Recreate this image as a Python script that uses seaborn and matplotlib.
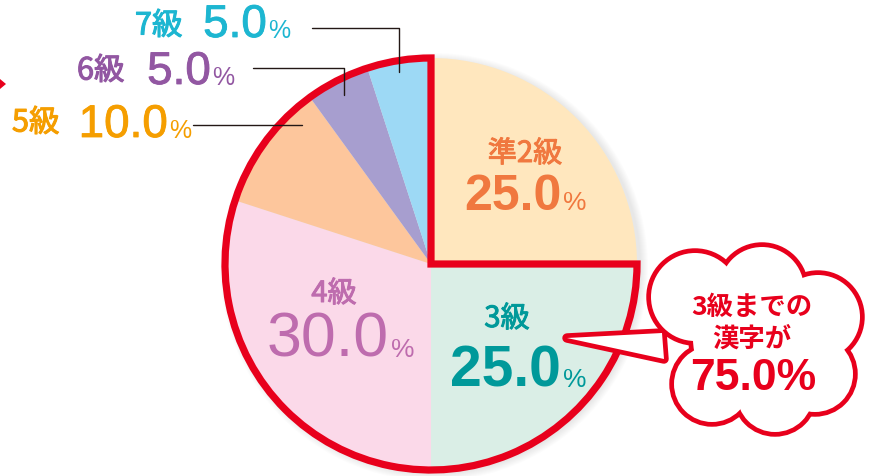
import matplotlib
matplotlib.use('Agg')
import matplotlib.pyplot as plt
import matplotlib.patheffects as pe
import seaborn as sns
from matplotlib.patches import Wedge, Circle, Polygon

sns.set_style('white')
plt.rcParams['font.family'] = ['Noto Sans CJK JP', 'DejaVu Sans']

# データ（時計回り、12時の位置から）
grades = ['準2級', '3級', '4級', '5級', '6級', '7級']
shares = [25.0, 25.0, 30.0, 10.0, 5.0, 5.0]
fills = ['#FFE7BE', '#DAEEE6', '#FBD9E9', '#FDC69C', '#A79ECF', '#9DD9F5']
text_colors = ['#F0783F', '#00999A', '#BE6CAE', '#F59E00', '#9257A2', '#1DB6D1']
bubble_lines = ['3級までの', '漢字が']
bubble_value = 75.0

RED = '#E8001C'
W, H = 872, 477
JP = ['Noto Sans CJK JP', 'DejaVu Sans']
NUM = ['Liberation Sans', 'DejaVu Sans']

fig = plt.figure(figsize=(W / 100, H / 100), dpi=100)
ax = fig.add_axes([0, 0, 1, 1])

cx, cy, r = 431, H - 265, 206

# うっすら影
for i in range(8):
    ax.add_patch(Circle((cx + 3, cy - 3), r + 1 + i, color='#000000', alpha=0.012, lw=0, zorder=0))

ax.pie(shares, colors=fills, startangle=90, counterclock=False,
       center=(cx, cy), radius=r, wedgeprops=dict(linewidth=0))

# 3級まで（75%）を囲む赤枠
ax.add_patch(Wedge((cx, cy), r, 90, 360, fill=False, edgecolor=RED, lw=5.2,
                   joinstyle='miter', zorder=5))


def put(x, y, s, size, color, weight='normal', fam=JP, ha='left', va='baseline', thick=0):
    t = ax.text(x, H - y, s, fontsize=size, color=color, fontweight=weight,
                family=fam, ha=ha, va=va, zorder=10)
    if thick:
        t.set_path_effects([pe.withStroke(linewidth=thick, foreground=color)])


def num(v):
    return f'{v:.1f}'


# 円内のラベル
inner = {0: (525, 155, 561, 210, 21, 36, 'bold'),
         1: (507, 320, 561, 387, 21, 41, 'bold'),
         2: (334, 295, 389, 357, 21, 45, 'normal')}
for i, (nx, ny, rx, base, s1, s2, wt) in inner.items():
    put(nx, ny, grades[i], s1, text_colors[i], ha='center', va='center', thick=0.7)
    put(rx, base, num(shares[i]), s2, text_colors[i], wt, NUM, ha='right')
    put(rx + 2, base, '%', 19, text_colors[i], 'normal', NUM)

# 円外のラベル
outer = {5: (135, 27, 267, 38), 4: (77, 72, 211, 85), 3: (12, 124, 168, 138)}
for i, (nx, ny, rx, base) in outer.items():
    put(nx, ny, grades[i], 22, text_colors[i], va='center', thick=0.8)
    put(rx, base, num(shares[i]), 33, text_colors[i], 'normal', NUM, ha='right', thick=0.6)
    put(rx + 1, base, '%', 18, text_colors[i], 'normal', NUM)

# 引き出し線
lc = '#231815'
ax.plot([312, 399, 399], [H - 29, H - 29, H - 73], color=lc, lw=1.0, zorder=6)
ax.plot([253, 344, 344], [H - 69, H - 69, H - 96], color=lc, lw=1.0, zorder=6)
ax.plot([193, 302], [H - 126, H - 126], color=lc, lw=1.0, zorder=6)

# 左端の赤い矢印
ax.add_patch(Polygon([(0, H - 80), (6, H - 85), (0, H - 90)], color=RED, lw=0, zorder=6))

# 吹き出し（雲形）
bumps = [(695, 298, 44), (762, 290, 42), (818, 318, 42), (815, 375, 38),
         (775, 395, 38), (712, 385, 38), (755, 340, 62)]
tail = [(567, 339), (662, 334), (664, 360)]
ol = 3.4
for bx, by, br in bumps:
    ax.add_patch(Circle((bx, H - by), br, facecolor='white', edgecolor=RED, lw=ol * 2, zorder=7))
ax.add_patch(Polygon([(x, H - y) for x, y in tail], facecolor='white', edgecolor=RED,
                     lw=ol * 2, joinstyle='round', zorder=7))
for bx, by, br in bumps:
    ax.add_patch(Circle((bx, H - by), br, facecolor='white', edgecolor='none', zorder=8))
ax.add_patch(Polygon([(x, H - y) for x, y in tail], facecolor='white', edgecolor='none', zorder=8))

put(752, 307, bubble_lines[0], 19, RED, 'bold', ha='center', va='center')
put(752, 339, bubble_lines[1], 19, RED, 'bold', ha='center', va='center')
put(753, 390, f'{bubble_value:.1f}%', 32, RED, 'bold', NUM, ha='center')

ax.set_xlim(0, W)
ax.set_ylim(0, H)
ax.set_aspect('equal')
ax.axis('off')

fig.savefig('out.png', dpi=100, facecolor='white')
